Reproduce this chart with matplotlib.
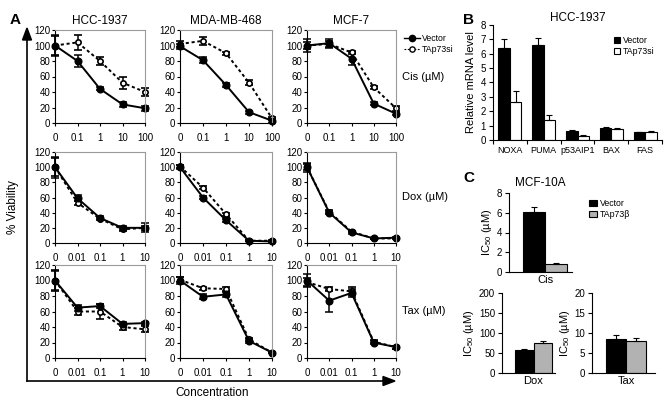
import numpy as np
import matplotlib
matplotlib.use("Agg")
import matplotlib.pyplot as plt
from matplotlib.lines import Line2D

plt.rcParams["font.family"] = ["Liberation Sans", "DejaVu Sans"]
plt.rcParams["mathtext.fontset"] = "custom"
plt.rcParams["mathtext.rm"] = "Liberation Sans"
plt.rcParams["mathtext.it"] = "Liberation Sans:italic"

W, H = 665, 407

# ---- panel A data ----
cell_lines = ["HCC-1937", "MDA-MB-468", "MCF-7"]
drugs = ["Cis (\u00b5M)", "Dox (\u00b5M)", "Tax (\u00b5M)"]
conc_labels = [["0", "0.1", "1", "10", "100"],
               ["0", "0.01", "0.1", "1", "10"],
               ["0", "0.01", "0.1", "1", "10"]]

# [row][col] -> values
vec = [
    [[100, 80, 44, 24, 19], [99, 81, 49, 14, 3], [100, 103, 83, 25, 12]],
    [[100, 59, 33, 20, 20], [100, 60, 30, 3, 2], [100, 40, 14, 6, 7]],
    [[100, 65, 67, 44, 45], [100, 79, 82, 22, 7], [100, 74, 84, 20, 14]],
]
vec_err = [
    [[14, 8, 2, 3, 3], [3, 4, 3, 2, 3], [8, 6, 8, 2, 2]],
    [[14, 4, 2, 3, 6], [3, 2, 2, 1, 1], [6, 2, 2, 1, 1]],
    [[12, 4, 3, 3, 2], [4, 3, 3, 3, 1], [8, 14, 5, 2, 2]],
]
si = [
    [[100, 104, 80, 52, 40], [102, 106, 90, 52, 6], [100, 102, 91, 46, 19]],
    [[100, 53, 32, 18, 20], [101, 73, 38, 3, 3], [100, 41, 15, 6, 6]],
    [[100, 60, 60, 40, 37], [101, 90, 89, 24, 7], [98, 89, 86, 21, 14]],
]
si_err = [
    [[12, 10, 5, 8, 5], [4, 5, 2, 3, 2], [5, 4, 2, 2, 3]],
    [[12, 3, 2, 2, 3], [2, 2, 2, 1, 1], [4, 2, 1, 1, 1]],
    [[14, 4, 10, 4, 4], [3, 2, 3, 2, 1], [5, 3, 5, 2, 2]],
]

# ---- panel B data ----
genes = ["NOXA", "PUMA", "p53AIP1", "BAX", "FAS"]
b_vec = [6.4, 6.6, 0.6, 0.82, 0.55]
b_vec_err = [0.65, 0.5, 0.12, 0.08, 0.03]
b_si = [2.65, 1.4, 0.3, 0.8, 0.58]
b_si_err = [0.75, 0.35, 0.05, 0.03, 0.05]

# ---- panel C data ----
c_drugs = ["Cis", "Dox", "Tax"]
c_vec = [6.1, 57, 8.4]
c_vec_err = [0.5, 2, 1.2]
c_beta = [0.8, 74, 8.1]
c_beta_err = [0.15, 5, 0.6]
c_ymax = [8, 200, 20]
c_yticks = [[0, 2, 4, 6, 8], [0, 50, 100, 150, 200], [0, 5, 10, 15, 20]]

fig = plt.figure(figsize=(W / 100, H / 100), dpi=100)


def px_axes(l, t, r, b):
    return fig.add_axes([l / W, 1 - b / H, (r - l) / W, (b - t) / H])


def fx(x):
    return x / W


def fy(y):
    return 1 - y / H


fs = 7
dash = (0, (1.6, 1.4))
cols = [(55, 145), (180, 272), (307, 396)]
rows = [(30, 123), (152, 243), (265, 358)]
box_gray = "#9a9a9a"

for i, (t, b) in enumerate(rows):
    for j, (l, r) in enumerate(cols):
        ax = px_axes(l, t, r, b)
        x = np.arange(5)
        ax.errorbar(x, si[i][j], yerr=si_err[i][j], color="k", ls=dash,
                    lw=1.4, marker="o", ms=3.8, mfc="white", mec="k", mew=1.2,
                    capsize=3, elinewidth=1.1, capthick=1.1, clip_on=False)
        ax.errorbar(x, vec[i][j], yerr=vec_err[i][j], color="k", ls="-",
                    lw=1.4, marker="o", ms=4.8, mfc="k", mec="k",
                    capsize=3, elinewidth=1.1, capthick=1.1, clip_on=False)
        ax.set_xlim(0, 4)
        ax.set_ylim(0, 120)
        ax.set_yticks(range(0, 121, 20))
        ax.set_xticks(x)
        ax.set_xticklabels(conc_labels[i], fontsize=fs)
        ax.tick_params(axis="y", labelsize=fs, length=2.5, width=0.8, pad=1)
        ax.tick_params(axis="x", length=2.5, width=0.8, pad=5)
        for s in ["top", "right"]:
            ax.spines[s].set_color(box_gray)
            ax.spines[s].set_linewidth(0.8)
        for s in ["left", "bottom"]:
            ax.spines[s].set_linewidth(0.8)
        if i == 0:
            ax.set_title(cell_lines[j], fontsize=8.5, pad=4)
        if j == 2:
            ax.text(1.07, 0.5, drugs[i], transform=ax.transAxes,
                    fontsize=8, va="center", ha="left")

# legend for panel A
handles = [
    Line2D([], [], color="k", lw=1, marker="o", ms=4.5, mfc="k"),
    Line2D([], [], color="k", lw=0.8, ls=dash, marker="o", ms=3.8,
           mfc="white"),
]
fig.legend(handles, ["Vector", "TAp73si"], loc="upper left",
           bbox_to_anchor=(fx(396), fy(26)), frameon=False, fontsize=6.3,
           handlelength=1.8, handletextpad=0.3, labelspacing=0.3)

# big axis arrows
fig.add_artist(Line2D([fx(27), fx(27)], [fy(381), fy(40)], color="k", lw=1.2))
fig.add_artist(Line2D([fx(27), fx(385)], [fy(381), fy(381)], color="k", lw=1.2))
fig.patches.append(plt.Polygon([[fx(22.5), fy(40)], [fx(31.5), fy(40)],
                                [fx(27), fy(28)]], closed=True, color="k",
                               transform=fig.transFigure, figure=fig))
fig.patches.append(plt.Polygon([[fx(383), fy(376.5)], [fx(383), fy(385.5)],
                                [fx(395), fy(381)]], closed=True, color="k",
                               transform=fig.transFigure, figure=fig))
fig.text(fx(13), fy(207), "% Viability", rotation=90, fontsize=8.5,
         ha="center", va="center")
fig.text(fx(212), fy(393), "Concentration", fontsize=8.5, ha="center",
         va="center")
fig.text(fx(10), fy(20), "A", fontsize=11, fontweight="bold", ha="left",
         va="center")

# ---- panel B ----
axb = px_axes(493, 25, 662, 140)
xb = np.arange(len(genes))
wb = 0.34
axb.bar(xb - wb / 2, b_vec, wb, color="k", edgecolor="k", lw=0.8,
        label="Vector")
axb.bar(xb + wb / 2, b_si, wb, color="white", edgecolor="k", lw=0.8,
        label="TAp73si")
axb.errorbar(xb - wb / 2, b_vec, yerr=[np.zeros(5), b_vec_err], fmt="none",
             ecolor="k", elinewidth=0.8, capsize=2.5, capthick=0.8)
axb.errorbar(xb + wb / 2, b_si, yerr=[np.zeros(5), b_si_err], fmt="none",
             ecolor="k", elinewidth=0.8, capsize=2.5, capthick=0.8)
axb.set_xlim(-0.5, 4.5)
axb.set_ylim(0, 8)
axb.set_yticks(range(0, 9))
axb.set_xticks(np.arange(-0.5, 5, 1))
axb.set_xticklabels([])
axb.set_xticks(xb, minor=True)
axb.set_xticklabels(genes, minor=True, fontsize=6.5)
axb.tick_params(axis="x", which="minor", length=0, pad=4)
axb.tick_params(axis="x", which="major", length=3, width=0.8)
axb.tick_params(axis="y", labelsize=fs, length=3, width=0.8, pad=2)
for s in ["top", "right"]:
    axb.spines[s].set_visible(False)
axb.set_ylabel("Relative mRNA level", fontsize=8, labelpad=3)
axb.set_title("HCC-1937", fontsize=8.5, pad=3)
axb.legend(loc="upper right", bbox_to_anchor=(1.0, 0.97), frameon=False,
           fontsize=6.3, handlelength=0.7, handleheight=0.7, handletextpad=0.3,
           labelspacing=0.2)
fig.text(fx(463), fy(20), "B", fontsize=11, fontweight="bold", ha="left",
         va="center")

# ---- panel C ----
c_boxes = [(509, 193, 572, 272), (502, 293, 555, 373), (592, 293, 655, 373)]
c_xlims = [(-1.64, 1.23), (-1.7, 1.16), (-1.7, 1.45)]
gray = "#b2b2b2"
for k, (l, t, r, b) in enumerate(c_boxes):
    ax = px_axes(l, t, r, b)
    ax.bar([-0.5], [c_vec[k]], 1, color="k", edgecolor="k", lw=0.8,
           label="Vector")
    ax.bar([0.5], [c_beta[k]], 1, color=gray, edgecolor="k", lw=0.8,
           label="TAp73\u03b2")
    ax.errorbar([-0.5, 0.5], [c_vec[k], c_beta[k]],
                yerr=[[0, 0], [c_vec_err[k], c_beta_err[k]]], fmt="none",
                ecolor="k", elinewidth=0.8, capsize=2.5, capthick=0.8)
    ax.set_xlim(*c_xlims[k])
    ax.set_ylim(0, c_ymax[k])
    ax.set_yticks(c_yticks[k])
    ax.set_xticks([0])
    ax.set_xticklabels([c_drugs[k]], fontsize=8)
    ax.tick_params(axis="x", length=0, pad=2)
    ax.tick_params(axis="y", labelsize=fs, length=3, width=0.8, pad=2)
    for s in ["top", "right"]:
        ax.spines[s].set_visible(False)
    ax.set_ylabel("IC$_{50}$ (\u00b5M)", fontsize=8, labelpad=2)
    if k == 0:
        ax.set_title("MCF-10A", fontsize=8.5, pad=5)
        ax.legend(loc="upper left", bbox_to_anchor=(1.15, 1.02),
                  frameon=False, fontsize=6.3, handlelength=0.9,
                  handleheight=0.7, handletextpad=0.3, labelspacing=0.2)
fig.text(fx(463), fy(178), "C", fontsize=11, fontweight="bold", ha="left",
         va="center")

fig.savefig("out.png", dpi=100)
